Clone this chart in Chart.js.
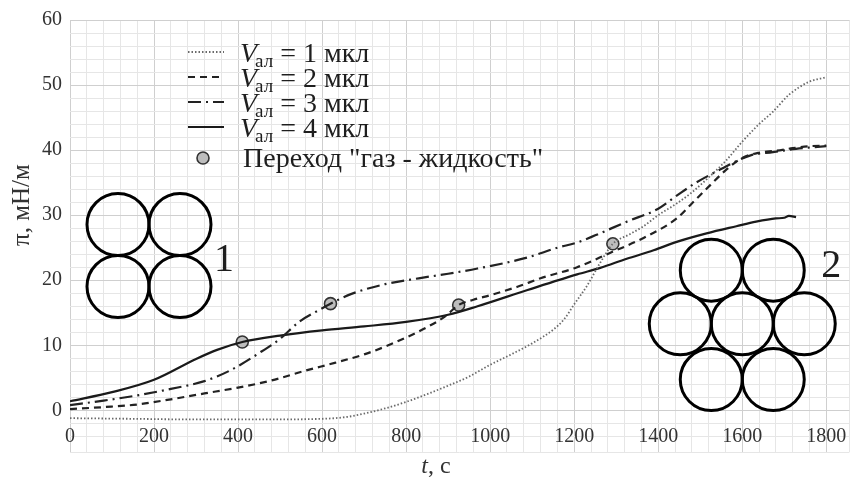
<!DOCTYPE html>
<html>
<head>
<meta charset="utf-8">
<script src="https://cdn.jsdelivr.net/npm/chart.js@4"></script>
<style>
  html, body { margin: 0; padding: 0; background: #fff; }
</style>
</head>
<body>
<canvas id="grafico" width="857" height="486"></canvas>
<script>
// время, с и поверхностное давление, мН/м
const tV1 = [0, 150, 300, 450, 600, 660, 700, 750, 800, 850, 900, 950, 1000, 1050, 1100, 1150, 1176, 1200, 1231, 1262, 1292, 1330, 1365, 1400, 1444, 1480, 1520, 1560, 1600, 1640, 1673, 1711, 1759, 1800];
const piV1 = [-1.2, -1.3, -1.4, -1.4, -1.3, -1.0, -0.5, 0.3, 1.3, 2.5, 3.8, 5.2, 7.0, 8.6, 10.3, 12.4, 14.0, 16.3, 19.2, 22.7, 25.6, 27.0, 28.3, 30.0, 31.8, 33.5, 35.8, 38.3, 41.3, 44.0, 45.9, 48.5, 50.5, 51.2];

const tV2 = [0, 80, 160, 240, 320, 400, 480, 560, 630, 700, 750, 800, 850, 892, 925, 960, 1000, 1065, 1120, 1207, 1285, 1365, 1444, 1480, 1522, 1562, 1600, 1640, 1680, 1720, 1760, 1800];
const piV2 = [0.2, 0.5, 0.9, 1.7, 2.6, 3.5, 4.6, 6.1, 7.3, 8.6, 9.8, 11.2, 12.8, 14.4, 16.2, 17.0, 17.7, 19.0, 20.3, 22.0, 24.2, 26.5, 29.5, 31.8, 34.5, 37.0, 38.8, 39.6, 39.9, 40.3, 40.6, 40.7];

const tV3 = [0, 80, 160, 240, 320, 380, 450, 500, 545, 592, 620, 670, 750, 830, 900, 970, 1089, 1160, 1207, 1250, 1325, 1400, 1444, 1490, 1538, 1586, 1620, 1673, 1728, 1760, 1800];
const piV3 = [0.8, 1.5, 2.3, 3.3, 4.5, 6.1, 8.8, 11.0, 13.6, 15.4, 16.4, 17.9, 19.4, 20.3, 21.0, 21.8, 23.5, 25.0, 25.8, 26.9, 29.0, 31.0, 33.0, 35.0, 36.7, 38.3, 39.2, 39.7, 40.2, 40.4, 40.6];

const tV4 = [0, 100, 200, 300, 350, 410, 500, 600, 700, 800, 900, 970, 1089, 1207, 1262, 1325, 1389, 1444, 1515, 1586, 1633, 1680, 1700, 1711, 1728];
const piV4 = [1.4, 2.8, 4.7, 7.9, 9.3, 10.5, 11.5, 12.3, 12.9, 13.6, 14.7, 16.0, 18.5, 20.9, 21.9, 23.3, 24.6, 25.9, 27.2, 28.3, 29.0, 29.5, 29.6, 29.9, 29.7];

// переход "газ - жидкость"
const tTransition = [410, 620, 925, 1292];
const piTransition = [10.5, 16.4, 16.2, 25.6];

const volumes = ["1", "2", "3", "4"];
const xTickLabels = [0, 200, 400, 600, 800, 1000, 1200, 1400, 1600, 1800];
const yTickLabels = [0, 10, 20, 30, 40, 50, 60];

const toPoints = (xs, ys) => xs.map((x, i) => ({ x: x, y: ys[i] }));

const serif = '"Liberation Serif", "Times New Roman", serif';
const ink = "#1e1e1e";

const lineSet = (xs, ys, dash, width, color) => ({
  data: toPoints(xs, ys),
  borderColor: color,
  borderWidth: width,
  borderDash: dash,
  pointRadius: 0,
  fill: false,
  cubicInterpolationMode: "monotone",
});

const datasets = [
  lineSet(tV1, piV1, [1.5, 2], 1.8, "#6a6a6a"),
  lineSet(tV2, piV2, [7, 5], 2.2, "#222"),
  lineSet(tV3, piV3, [13, 5, 2, 5], 2.2, "#222"),
  lineSet(tV4, piV4, [], 2.2, "#1a1a1a"),
  {
    data: toPoints(tTransition, piTransition),
    showLine: false,
    pointRadius: 6,
    pointBackgroundColor: "#bdbdbd",
    pointBorderColor: "#333",
    pointBorderWidth: 1.6,
  },
];

// рисунки упаковки, подписи осей и легенда
const decor = {
  id: "decor",
  afterDatasetsDraw(chart) {
    const { ctx, scales } = chart;
    const sx = scales.x, sy = scales.y;

    const circle = (cx, cy, r) => {
      ctx.beginPath();
      ctx.arc(cx, cy, r, 0, Math.PI * 2);
      ctx.stroke();
    };
    ctx.save();
    ctx.strokeStyle = "#000";
    ctx.lineWidth = 3;
    const r = 31;
    // 1: квадратная упаковка
    const c1x = sx.getPixelForValue(188), c1y = sy.getPixelForValue(23.8);
    circle(c1x - r, c1y - r, r);
    circle(c1x + r, c1y - r, r);
    circle(c1x - r, c1y + r, r);
    circle(c1x + r, c1y + r, r);
    // 2: гексагональная упаковка
    const c2x = sx.getPixelForValue(1600), c2y = sy.getPixelForValue(13.3);
    const h = r * Math.sqrt(3);
    circle(c2x, c2y, r);
    circle(c2x - 2 * r, c2y, r);
    circle(c2x + 2 * r, c2y, r);
    circle(c2x - r, c2y - h, r);
    circle(c2x + r, c2y - h, r);
    circle(c2x - r, c2y + h + 2, r);
    circle(c2x + r, c2y + h + 2, r);

    ctx.fillStyle = ink;
    ctx.font = "40px " + serif;
    ctx.textAlign = "center";
    ctx.textBaseline = "middle";
    ctx.fillText("1", c1x + 2 * r + 13, c1y + 5);
    ctx.fillText("2", c2x + 2 * r + 27, c2y - h - 4);

    // подписи делений оси x
    ctx.fillStyle = "#333";
    ctx.font = "20px " + serif;
    xTickLabels.forEach((v) => {
      ctx.fillText(String(v), sx.getPixelForValue(v), 437);
    });

    // подпись оси y
    ctx.save();
    ctx.translate(22, 205);
    ctx.rotate(-Math.PI / 2);
    ctx.font = "25px " + serif;
    ctx.fillText("π, мН/м", 0, 0);
    ctx.restore();

    // легенда
    const lx = 188, tx = 240;
    ctx.fillStyle = ink;
    ctx.textAlign = "left";
    ctx.textBaseline = "alphabetic";
    volumes.forEach((v, i) => {
      const ds = chart.data.datasets[i];
      const base = 62 + i * 25;
      ctx.beginPath();
      ctx.setLineDash(ds.borderDash);
      ctx.lineWidth = ds.borderWidth;
      ctx.strokeStyle = ds.borderColor;
      ctx.moveTo(lx, base - 10);
      ctx.lineTo(lx + 36, base - 10);
      ctx.stroke();
      ctx.setLineDash([]);

      let x = tx;
      ctx.font = "italic 28px " + serif;
      ctx.fillText("V", x, base);
      x += ctx.measureText("V").width - 2;
      ctx.font = "19px " + serif;
      ctx.fillText("ал", x, base + 5);
      x += ctx.measureText("ал").width;
      ctx.font = "28px " + serif;
      ctx.fillText(" = " + v + " мкл", x, base);
    });
    const m = chart.data.datasets[4];
    ctx.beginPath();
    ctx.arc(lx + 15, 158, 6, 0, Math.PI * 2);
    ctx.fillStyle = m.pointBackgroundColor;
    ctx.fill();
    ctx.lineWidth = m.pointBorderWidth;
    ctx.strokeStyle = m.pointBorderColor;
    ctx.stroke();
    ctx.fillStyle = ink;
    ctx.font = "28px " + serif;
    ctx.fillText('Переход "газ - жидкость"', 243, 167);

    // подпись оси x
    ctx.fillStyle = "#333";
    ctx.font = "italic 24px " + serif;
    const w1 = ctx.measureText("t").width;
    ctx.font = "24px " + serif;
    const w2 = ctx.measureText(", с").width;
    const ax = 436 - (w1 + w2) / 2;
    ctx.font = "italic 24px " + serif;
    ctx.fillText("t", ax, 473);
    ctx.font = "24px " + serif;
    ctx.fillText(", с", ax + w1, 473);
    ctx.restore();
  },
};

new Chart(document.getElementById("grafico"), {
  type: "line",
  data: { datasets: datasets },
  plugins: [decor],
  options: {
    responsive: false,
    animation: false,
    layout: { padding: { top: 14, right: 4, left: 0, bottom: 0 } },
    plugins: { legend: { display: false }, tooltip: { enabled: false } },
    scales: {
      x: {
        type: "linear",
        min: 0,
        max: 1855,
        border: { display: false },
        grid: {
          drawTicks: false,
          color: (c) => (c.tick && xTickLabels.includes(c.tick.value) ? "#cfcfcf" : "#e6e6e6"),
        },
        ticks: { stepSize: 40, autoSkip: false, display: false },
        afterFit: (s) => { s.height = 34; },
      },
      y: {
        min: -6.4,
        max: 60,
        border: { display: false },
        grid: {
          drawTicks: false,
          color: (c) => (c.tick && yTickLabels.includes(c.tick.value) ? "#cfcfcf" : "#e6e6e6"),
        },
        ticks: {
          stepSize: 2,
          autoSkip: false,
          padding: 8,
          color: "#333",
          font: { family: serif, size: 20 },
          callback: (v) => (yTickLabels.includes(v) ? v : ""),
        },
        afterFit: (s) => { s.width = 70; },
      },
    },
  },
});
</script>
</body>
</html>
